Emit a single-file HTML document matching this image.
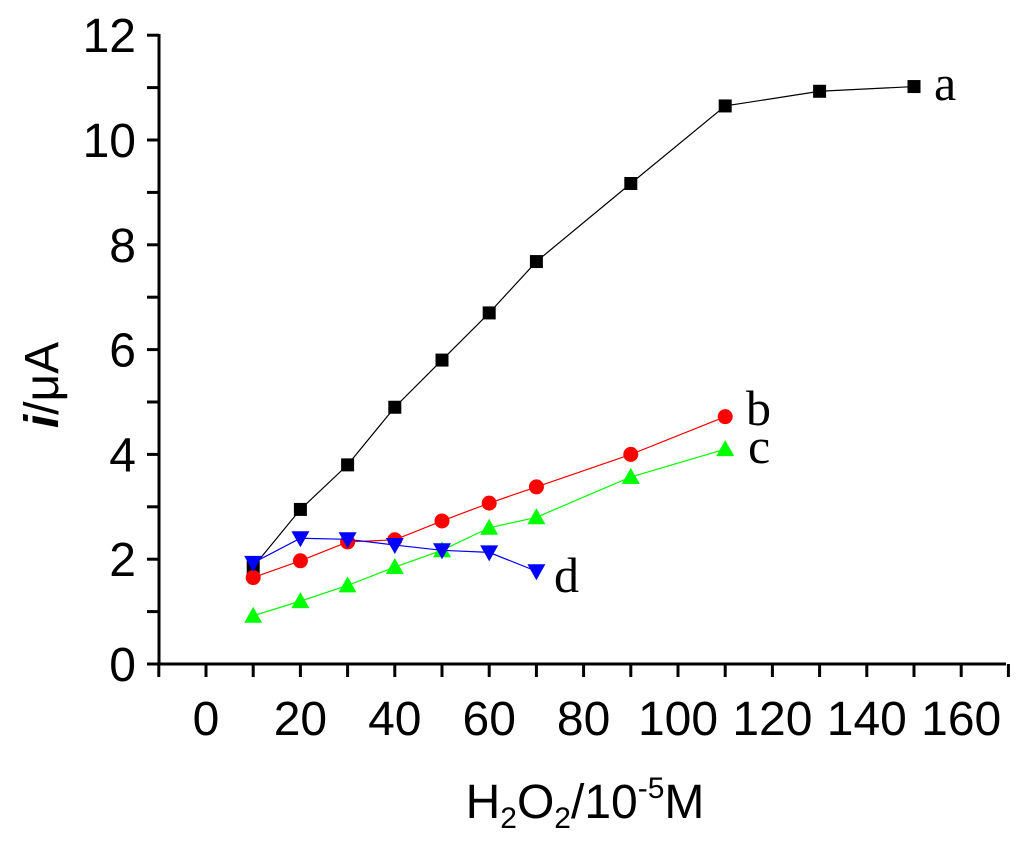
<!DOCTYPE html>
<html><head><meta charset="utf-8"><style>body{margin:0;background:#fff}svg{display:block}</style></head>
<body>
<svg id="chart" width="1024" height="852" xmlns="http://www.w3.org/2000/svg" font-family="Liberation Sans, sans-serif"></svg>
<script>
const xTicks=[0,20,40,60,80,100,120,140,160];
const yTicks=[0,2,4,6,8,10,12];
const xA=[10,20,30,40,50,60,70,90,110,130,150];
const yA=[1.85,2.95,3.8,4.9,5.8,6.7,7.68,9.17,10.65,10.93,11.02];
const xB=[10,20,30,40,50,60,70,90,110];
const yB=[1.65,1.97,2.33,2.37,2.73,3.07,3.38,4.0,4.72];
const xC=[10,20,30,40,50,60,70,90,110];
const yC=[0.92,1.2,1.5,1.85,2.17,2.6,2.8,3.57,4.1];
const xD=[10,20,30,40,50,60,70];
const yD=[1.93,2.4,2.38,2.27,2.17,2.13,1.77];
const NS='http://www.w3.org/2000/svg';
const svg=document.getElementById('chart');
const X=v=>206+(v)*4.72;
const Y=v=>664-v*52.4;
function mk(t,a,p){const e=document.createElementNS(NS,t);for(const k in a)e.setAttribute(k,a[k]);(p||svg).appendChild(e);return e;}
const ax=mk('g',{});


mk('line',{x1:159,y1:664,x2:1006,y2:664,stroke:'#000','stroke-width':3},ax);
mk('line',{x1:159,y1:34,x2:159,y2:664,stroke:'#000','stroke-width':3},ax);
for(let v=-10;v<=170;v+=10){mk('line',{x1:X(v),y1:664,x2:X(v),y2:677,stroke:'#000','stroke-width':3},ax);}
for(let v=0;v<=12;v+=1){mk('line',{x1:147,y1:Y(v),x2:159,y2:Y(v),stroke:'#000','stroke-width':3},ax);}
xTicks.forEach(v=>{const t=mk('text',{x:X(v),y:735,'font-size':48,'text-anchor':'middle'},ax);t.textContent=v;

});
yTicks.forEach(v=>{const t=mk('text',{x:136,y:Y(v)+17,'font-size':48,'text-anchor':'end'},ax);t.textContent=v;

});
const xt=mk('text',{x:585,y:818,'font-size':48,'text-anchor':'middle'});


xt.innerHTML='H<tspan font-size="30" dy="10">2</tspan><tspan dy="-10">O</tspan><tspan font-size="30" dy="10">2</tspan><tspan dy="-10">/10</tspan><tspan font-size="30" dy="-20">-5</tspan><tspan dy="20">M</tspan>';
const yt=mk('text',{transform:'translate(58,385) rotate(-90)','font-size':48,'text-anchor':'middle'});


yt.innerHTML='<tspan font-style="italic" font-weight="bold">i</tspan>/μA';
function series(xs,ys,col,shape,name,lbl,lx,ly){
 const g=mk('g',{});
 
 
 mk('polyline',{points:xs.map((x,i)=>X(x)+','+Y(ys[i])).join(' '),fill:'none',stroke:col,'stroke-width':1.2},g);
 xs.forEach((x,i)=>{const cx=X(x),cy=Y(ys[i]);let m;
  if(shape==='sq')m=mk('rect',{x:cx-6.5,y:cy-6.5,width:13,height:13,fill:col},g);
  else if(shape==='ci')m=mk('circle',{cx:cx,cy:cy,r:7.5,fill:col},g);
  else if(shape==='up')m=mk('polygon',{points:`${cx},${cy-9} ${cx-9},${cy+7} ${cx+9},${cy+7}`,fill:col},g);
  else m=mk('polygon',{points:`${cx},${cy+9} ${cx-9},${cy-7} ${cx+9},${cy-7}`,fill:col},g);
  
  });
 const t=mk('text',{x:lx,y:ly,'font-size':50,'font-family':'Liberation Serif, serif'},g);t.textContent=lbl;
 
 
}
series(xA,yA,'#000','sq','series-a','a',934,100);
series(xB,yB,'#f00','ci','series-b','b',746,425);
series(xC,yC,'#0f0','up','series-c','c',748,463);
series(xD,yD,'#00f','dn','series-d','d',554,592);
</script>
</body></html>
